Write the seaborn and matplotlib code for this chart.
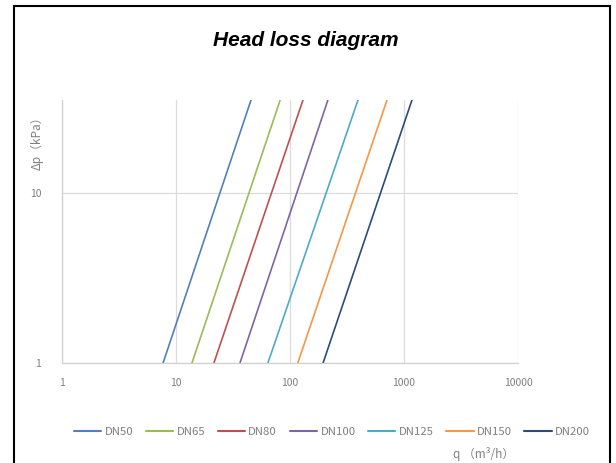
import matplotlib
matplotlib.use("Agg")
import matplotlib.pyplot as plt
import seaborn as sns
import pandas as pd
from matplotlib.patches import Rectangle
from matplotlib.lines import Line2D

# ---- data ----
series = ["DN50", "DN65", "DN80", "DN100", "DN125", "DN150", "DN200"]
q_low = [7.7, 13.8, 21.5, 36.4, 64.0, 117.0, 195.0]      # q at Δp = 1 kPa
q_high = [45.5, 82.0, 130.0, 215.0, 395.0, 710.0, 1175.0]  # q at Δp = 35 kPa
dp_low = 1.0
dp_high = 35.0
x_ticks = [1, 10, 100, 1000, 10000]
x_tick_labels = ["1", "10", "100", "1000", "10000"]
y_ticks = [1, 10]
y_tick_labels = ["1", "10"]
colors = ["#4F81BD", "#9BBB59", "#C0504D", "#8064A2", "#4BACC6", "#F79646", "#2C4D75"]

rows = []
for s, a, b in zip(series, q_low, q_high):
    rows.append({"series": s, "q": a, "dp": dp_low})
    rows.append({"series": s, "q": b, "dp": dp_high})
df = pd.DataFrame(rows)

sns.set_theme(style="white")
plt.rcParams["font.family"] = ["Noto Sans CJK SC", "DejaVu Sans"]

W, H = 616, 463
fig = plt.figure(figsize=(W / 100, H / 100), dpi=100)
ax = fig.add_axes([62 / W, (H - 363) / H, (518 - 62) / W, (363 - 100) / H])

palette = dict(zip(series, colors))
sns.lineplot(data=df, x="q", y="dp", hue="series", palette=palette,
             linewidth=1.2, ax=ax, legend=False, sort=False, estimator=None)

ax.set_xscale("log")
ax.set_yscale("log")
ax.set_xlim(1, 10000)
ax.set_ylim(1, 35)
ax.set_xticks(x_ticks)
ax.set_xticklabels(x_tick_labels)
ax.set_yticks(y_ticks)
ax.set_yticklabels(y_tick_labels)
ax.minorticks_off()
ax.tick_params(axis="x", length=0, pad=11, labelsize=7.5, labelcolor="#808080")
ax.tick_params(axis="y", length=0, pad=15, labelsize=7.5, labelcolor="#808080")
ax.set_xlabel("")
ax.set_ylabel("")
ax.grid(True, which="major", color="#dcdcdc", linewidth=0.9)
for side in ["top", "right"]:
    ax.spines[side].set_visible(False)
for side in ["left", "bottom"]:
    ax.spines[side].set_color("#d0d0d0")
    ax.spines[side].set_linewidth(0.9)

# title
fig.text(306 / W, 1 - 40 / H, "Head loss diagram", ha="center", va="center",
         fontsize=15, fontweight="bold", fontstyle="italic",
         family=["Liberation Sans", "DejaVu Sans"], color="black")

# y label
fig.text(37 / W, 1 - 140 / H, "Δp（kPa）", rotation=90, ha="center", va="center",
         fontsize=8.5, color="#808080", family=["Noto Sans CJK SC", "DejaVu Sans"])

# legend
handles = [Line2D([0], [0], color=c, linewidth=1.5) for c in colors]
leg = fig.legend(handles, series, loc="center", bbox_to_anchor=(332 / W, 1 - 432 / H),
                 ncol=len(series), frameon=False, fontsize=8.2, handlelength=2.4,
                 handletextpad=0.3, columnspacing=1.1, borderaxespad=0)
for t in leg.get_texts():
    t.set_color("#808080")

# x label (sits under the DN150 entry)
fig.text(484 / W, 1 - 454 / H, "q （m³/h）", ha="center", va="center",
         fontsize=8.5, color="#808080", family=["Noto Sans CJK SC", "DejaVu Sans"])

# figure border
fig.patches.append(Rectangle((13.5 / W, -0.05), (610 - 13.5) / W, (H - 6) / H + 0.05,
                             transform=fig.transFigure, fill=False, edgecolor="black",
                             linewidth=1.5, clip_on=False))

fig.savefig("out.png", dpi=100, facecolor="white")
